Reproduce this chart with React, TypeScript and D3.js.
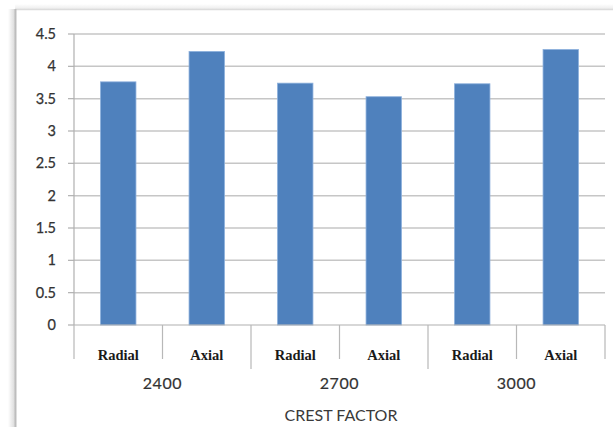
import React from "react";
import * as d3 from "d3";

// Crest factor readings by speed (rpm) and measurement direction
const speeds = ["2400", "2700", "3000"];
const directions = ["Radial", "Axial"];
const crestValues = [3.76, 4.23, 3.74, 3.53, 3.73, 4.26];
const yTicks = [0, 0.5, 1, 1.5, 2, 2.5, 3, 3.5, 4, 4.5];
const yTickLabels = ["0", "0.5", "1", "1.5", "2", "2.5", "3", "3.5", "4", "4.5"];
const axisTitle = "CREST FACTOR";

const W = 613;
const H = 427;
const plot = { left: 74, right: 605, top: 34, bottom: 325 };
const sans = "Lato, 'Open Sans', sans-serif";

export default function App() {
  const cats = speeds.flatMap((s) => directions.map((d) => `${s}|${d}`));
  const x = d3
    .scaleBand<string>()
    .domain(cats)
    .range([plot.left, plot.right])
    .paddingInner(0.6)
    .paddingOuter(0.3);
  const step = x.step();
  const y = d3.scaleLinear().domain([0, 4.5]).range([plot.bottom, plot.top]);

  const boundaries = d3.range(cats.length + 1).map((i) => plot.left + i * step);
  const groupWidth = step * directions.length;

  return (
    <svg
      width={W}
      height={H}
      viewBox={`0 0 ${W} ${H}`}
      style={{ position: "fixed", left: 0, top: 0, background: "#fff" }}
    >
      <defs>
        <linearGradient id="edgeShadow" x1="0" x2="1" y1="0" y2="0">
          <stop offset="0" stopColor="#ffffff" />
          <stop offset="1" stopColor="#d9d9d9" />
        </linearGradient>
        <linearGradient id="topShadow" x1="0" x2="0" y1="0" y2="1">
          <stop offset="0" stopColor="#ffffff" />
          <stop offset="1" stopColor="#ececec" />
        </linearGradient>
      </defs>

      {/* panel frame with soft shadow */}
      <rect x={8} y={9} width={7} height={H - 9} fill="url(#edgeShadow)" />
      <rect x={15} y={4} width={W - 15} height={5} fill="url(#topShadow)" />
      <line x1={15} x2={W} y1={9.5} y2={9.5} stroke="#dcdcdc" strokeWidth={1.5} />
      <line x1={15.5} x2={15.5} y1={9} y2={H} stroke="#bdbdbd" strokeWidth={2} />

      {/* gridlines and y ticks */}
      {yTicks.map((t, i) => (
        <g key={t}>
          {t > 0 && (
            <line
              x1={plot.left}
              x2={plot.right}
              y1={y(t)}
              y2={y(t)}
              stroke="#c6c6c6"
              strokeWidth={1.5}
            />
          )}
          <line x1={68} x2={plot.left} y1={y(t)} y2={y(t)} stroke="#b0b0b0" strokeWidth={1.2} />
          <text
            x={56}
            y={y(t)}
            dy="0.35em"
            textAnchor="end"
            fontFamily={sans}
            fontSize={14.5}
            fill="#333"
            stroke="#333"
            strokeWidth={0.25}
          >
            {yTickLabels[i]}
          </text>
        </g>
      ))}

      {/* bars */}
      {cats.map((c, i) => (
        <rect
          key={c}
          x={x(c)}
          y={y(crestValues[i])}
          width={x.bandwidth()}
          height={y(0) - y(crestValues[i])}
          fill="#4f81bd"
          stroke="#8cb0dc"
          strokeWidth={0.8}
        />
      ))}

      {/* axes */}
      <line x1={plot.left} x2={plot.left} y1={plot.top} y2={plot.bottom} stroke="#b0b0b0" strokeWidth={1.2} />
      <line x1={plot.left} x2={plot.right} y1={plot.bottom} y2={plot.bottom} stroke="#b0b0b0" strokeWidth={1.2} />
      {boundaries.map((bx, i) => {
        const isGroupEdge = i > 0 && i < cats.length && i % directions.length === 0;
        return (
          <line
            key={i}
            x1={bx}
            x2={bx}
            y1={plot.bottom}
            y2={isGroupEdge ? 369 : 359}
            stroke="#b8b8b8"
            strokeWidth={1.2}
          />
        );
      })}

      {/* direction labels */}
      {cats.map((c) => (
        <text
          key={c}
          x={(x(c) ?? 0) + x.bandwidth() / 2}
          y={360}
          textAnchor="middle"
          fontFamily="'Liberation Serif', 'Times New Roman', serif"
          fontWeight="bold"
          fontSize={14.5}
          fill="#1a1a1a"
        >
          {c.split("|")[1]}
        </text>
      ))}

      {/* speed labels */}
      {speeds.map((s, i) => (
        <text
          key={s}
          x={plot.left + groupWidth * (i + 0.5)}
          y={388.5}
          textAnchor="middle"
          fontFamily={sans}
          fontSize={16}
          letterSpacing={0.6}
          fill="#333"
          stroke="#333"
          strokeWidth={0.2}
        >
          {s}
        </text>
      ))}

      <text
        x={341}
        y={420.5}
        textAnchor="middle"
        fontFamily={sans}
        fontSize={16}
        fill="#3a3a3a"
      >
        {axisTitle}
      </text>
    </svg>
  );
}
